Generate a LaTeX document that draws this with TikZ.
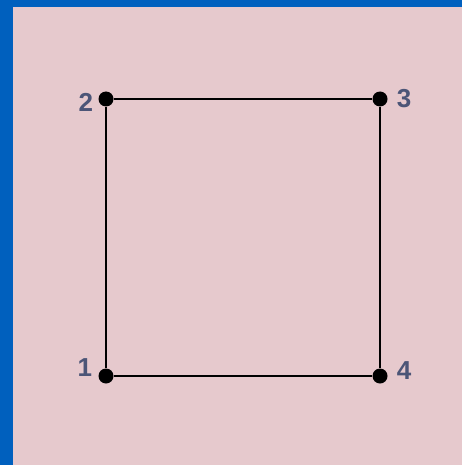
\documentclass[tikz,border=0pt]{standalone}
\usepackage{fontspec}
\setmainfont{Liberation Sans}
\usetikzlibrary{positioning}

\definecolor{slideblue}{HTML}{0060BE}
\definecolor{slidepink}{HTML}{E6C9CD}
\definecolor{labelgray}{HTML}{4C5577}

\begin{document}
\begin{tikzpicture}[
    x=1pt, y=-1pt,
    node distance = 3pt,
    vertex/.style = {circle, fill=black, inner sep=0pt, minimum size=15pt},
    num/.style    = {font=\fontsize{26}{26}\selectfont\bfseries, text=labelgray,
                     inner sep=0pt},
    edge/.style   = {line width=2.5pt, black}
  ]

  % background
  \useasboundingbox (0,0) rectangle (462,465);
  \fill[slideblue] (0,0) rectangle (462,465);
  \fill[slidepink] (13,7) rectangle (462,465);

  % nodes
  \node[vertex] (v1) at (106,376) {};
  \node[vertex] (v2) at (106,99)  {};
  \node[vertex] (v3) at (380,99)  {};
  \node[vertex] (v4) at (380,376) {};

  \node[num] (l1) [left=6pt of v1, yshift=8pt]  {1};
  \node[num] (l2) [left=5pt of v2, yshift=-3pt] {2};
  \node[num] (l3) [right=9pt of v3] {3};
  \node[num] (l4) [right=9pt of v4, yshift=5pt] {4};

  % edges
  \draw[edge] (v1) -- (v2) -- (v3) -- (v4) -- (v1);

\end{tikzpicture}
\end{document}
